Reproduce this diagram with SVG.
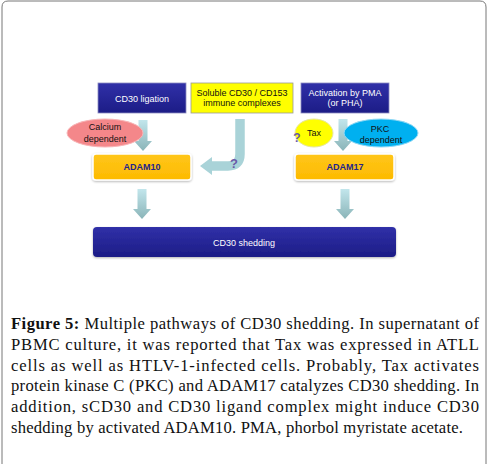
<svg xmlns="http://www.w3.org/2000/svg" width="488" height="464" viewBox="0 0 488 464">
<defs>
<linearGradient id="navy" x1="0" y1="0" x2="0" y2="1">
<stop offset="0" stop-color="#3030A8"/><stop offset="1" stop-color="#1C1C86"/>
</linearGradient>
<linearGradient id="arr" x1="0" y1="0" x2="0" y2="1">
<stop offset="0" stop-color="#C2E6EC"/><stop offset="1" stop-color="#8AB4B8"/>
</linearGradient>
<linearGradient id="orange" x1="0" y1="0" x2="0" y2="1">
<stop offset="0" stop-color="#FFC61A"/><stop offset="1" stop-color="#FDBA00"/>
</linearGradient>
<filter id="sh" x="-10%" y="-10%" width="120%" height="130%">
<feDropShadow dx="0" dy="1" stdDeviation="1" flood-color="#000" flood-opacity="0.3"/>
</filter>
</defs>
<style>
.dk{fill:url(#navy);stroke:#8C8CC0;stroke-width:0.8}
.wt{font-family:"Liberation Sans",Arial,sans-serif;font-size:9px;fill:#fff;text-anchor:middle}
.bk{font-family:"Liberation Sans",Arial,sans-serif;font-size:9px;fill:#111;text-anchor:middle}
.ad{fill:url(#orange);stroke:#fff;stroke-width:1.5;filter:url(#sh)}
.adt{font-family:"Liberation Sans",Arial,sans-serif;font-size:9px;font-weight:bold;fill:#24248C;text-anchor:middle}
.q{font-family:"Liberation Sans",Arial,sans-serif;font-size:13px;font-weight:bold;fill:#6A5AA8;text-anchor:middle}
.cap{font-family:"Liberation Serif","Times New Roman",serif;font-size:16.6px;fill:#111}
.ar{fill:url(#arr)}
</style>
<rect width="488" height="464" fill="#fff"/>
<path d="M2,464 V7 Q2,1 8,1 H480 Q486,1 486,7 V464" fill="none" stroke="#777" stroke-width="1"/>

<g id="connectors">
<polygon class="ar" points="138.5,120 147.5,120 147.5,141 152,141 143,151 134,141 138.5,141"/>
<polygon class="ar" points="338.5,119 347.5,119 347.5,141 352,141 343,151 334,141 338.5,141"/>
<polygon class="ar" points="137.5,189 146.5,189 146.5,209 151,209 142,219 133,209 137.5,209"/>
<polygon class="ar" points="340.5,189 349.5,189 349.5,209 354,209 345,219 336,209 340.5,209"/>
<path d="M240,119 V154 Q240,166 228,166 H212" fill="none" stroke="#A9D3D8" stroke-width="9.5"/>
<polygon points="212,157 212,175 200,166" fill="#A9D3D8"/>
<text class="q" x="234" y="168">?</text>
</g>

<g id="cd30-ligation">
<rect class="dk" x="98" y="83" width="88" height="30"/>
<text class="wt" x="142" y="101.5">CD30 ligation</text>
</g>
<g id="soluble">
<rect x="191" y="83" width="102" height="30" fill="#FFFF00" stroke="#9A9A9A" stroke-width="0.8"/>
<text class="bk" x="242" y="96">Soluble CD30 / CD153</text>
<text class="bk" x="242" y="106">immune complexes</text>
</g>
<g id="activation">
<rect class="dk" x="301" y="83" width="88" height="30"/>
<text class="wt" x="345" y="96">Activation by PMA</text>
<text class="wt" x="345" y="106">(or PHA)</text>
</g>
<g id="calcium">
<ellipse cx="105" cy="133" rx="38" ry="14" fill="#F4878A" stroke="#F8B5B7" stroke-width="1"/>
<text class="bk" x="105" y="130">Calcium</text>
<text class="bk" x="105" y="141.5">dependent</text>
</g>
<g id="tax">
<ellipse cx="314" cy="133" rx="19" ry="14" fill="#FFFF00" stroke="#E6E6A0" stroke-width="1"/>
<text class="bk" x="314" y="136">Tax</text>
<text class="q" x="297" y="142" style="font-size:12px">?</text>
</g>
<g id="pkc">
<ellipse cx="381" cy="133" rx="37" ry="14" fill="#00B0F0" stroke="#8FD8F5" stroke-width="1"/>
<text class="bk" x="380" y="131.5">PKC</text>
<text class="bk" x="381" y="142.5">dependent</text>
</g>
<g id="adam10">
<rect class="ad" x="93" y="154" width="98" height="26" rx="3"/>
<text class="adt" x="142" y="170">ADAM10</text>
</g>
<g id="adam17">
<rect class="ad" x="295" y="154" width="99" height="26" rx="3"/>
<text class="adt" x="345" y="170">ADAM17</text>
</g>
<g id="shedding">
<rect x="93" y="227" width="303" height="30" rx="4" fill="url(#navy)" filter="url(#sh)"/>
<text class="wt" x="244" y="245.5">CD30 shedding</text>
</g>

<g id="caption">
<text class="cap" x="11" y="329.3" textLength="468" lengthAdjust="spacing"><tspan font-weight="bold">Figure 5:</tspan> Multiple pathways of CD30 shedding. In supernatant of</text>
<text class="cap" x="11" y="350" textLength="468" lengthAdjust="spacing">PBMC culture, it was reported that Tax was expressed in ATLL</text>
<text class="cap" x="11" y="370.7" textLength="468" lengthAdjust="spacing">cells as well as HTLV-1-infected cells. Probably, Tax activates</text>
<text class="cap" x="11" y="391.4" textLength="468" lengthAdjust="spacing">protein kinase C (PKC) and ADAM17 catalyzes CD30 shedding. In</text>
<text class="cap" x="11" y="412.1" textLength="468" lengthAdjust="spacing">addition, sCD30 and CD30 ligand complex might induce CD30</text>
<text class="cap" x="11" y="432.8" textLength="452" lengthAdjust="spacing">shedding by activated ADAM10. PMA, phorbol myristate acetate.</text>
</g>
</svg>
